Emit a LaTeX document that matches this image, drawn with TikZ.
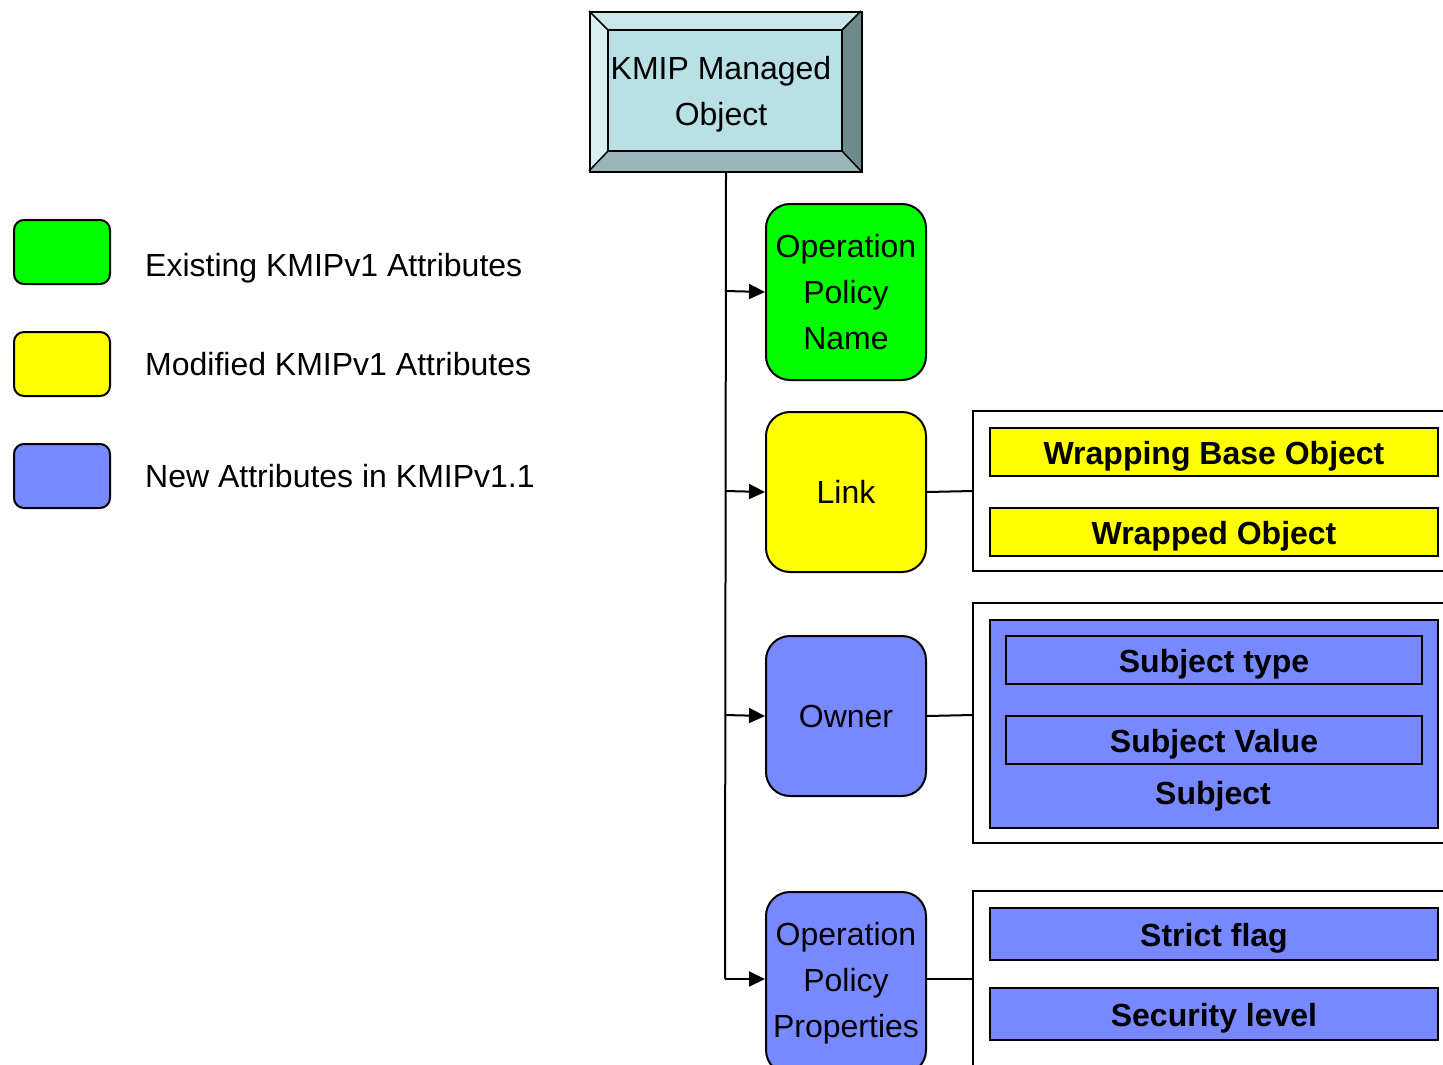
\documentclass[tikz,border=0pt]{standalone}
\usepackage{fontspec}
\setmainfont{Liberation Sans}
\usetikzlibrary{arrows.meta}
\definecolor{kgreen}{HTML}{00FF00}
\definecolor{kyellow}{HTML}{FFFF00}
\definecolor{kblue}{HTML}{7888FF}
\definecolor{bvinner}{HTML}{B9E0E4}
\definecolor{bvtop}{HTML}{C9E7EB}
\definecolor{bvleft}{HTML}{D9EFF1}
\definecolor{bvright}{HTML}{6F8A8C}
\definecolor{bvbottom}{HTML}{99B5B9}
\tikzset{
  txt/.style={font=\fontsize{32}{46}\selectfont, align=center, inner sep=0pt},
  btxt/.style={font=\fontsize{32}{46}\selectfont\bfseries, align=center, inner sep=0pt},
  attr/.style={txt, draw, line width=2pt, rounded corners=24pt, minimum width=160pt, minimum height=176pt, anchor=north west},
  legbox/.style={draw, line width=2pt, rounded corners=10pt, minimum width=96pt, minimum height=64pt, anchor=north west, inner sep=0pt},
  sub/.style={inner sep=0pt, draw, line width=2pt, anchor=north west},
  lab/.style={label={[btxt, yshift=-4.5pt]center:#1}},
  conn/.style={line width=2pt},
  arr/.style={line width=2pt, -{Triangle[length=16pt,width=15pt]}},
  frame/.style={line width=2pt}
}
\begin{document}
\begin{tikzpicture}[x=1pt,y=-1pt]
\useasboundingbox (0,0) rectangle (1443,1065);
% bevel box
\fill[bvinner] (608,30) rectangle (842,151);
\fill[bvtop] (589,11) -- (861,11) -- (842,30) -- (608,30) -- cycle;
\fill[bvleft] (589,11) -- (608,30) -- (608,151) -- (589,171) -- cycle;
\fill[bvright] (861,11) -- (861,171) -- (842,151) -- (842,30) -- cycle;
\fill[bvbottom] (589,171) -- (608,151) -- (842,151) -- (861,171) -- cycle;
\draw[line width=1.5pt] (589,11) -- (608,30) (861,11) -- (842,30) (589,171) -- (608,151) (861,171) -- (842,151);
\draw[line width=2pt] (608,30) rectangle (842,151);
\node[draw, line width=2pt, minimum width=272pt, minimum height=160pt, anchor=north west] (kmip) at (589,11) {};
\node[txt] (kmipt) at (721,94) {KMIP Managed\\Object};

% legend
\node[legbox, fill=kgreen] (lg) at (13,219) {};
\node[legbox, fill=kyellow] (ly) at (13,331) {};
\node[legbox, fill=kblue] (lb) at (13,443) {};
\node[txt, anchor=west] (lgt) at (145,268) {Existing KMIPv1 Attributes};
\node[txt, anchor=west] (lyt) at (145,364) {Modified KMIPv1 Attributes};
\node[txt, anchor=west] (lbt) at (145,476) {New Attributes in KMIPv1.1};

% attribute boxes
\node[attr, fill=kgreen] (opn) at (765,203) {Operation\\Policy\\Name};
\node[attr, minimum height=160pt, fill=kyellow] (link) at (765,411) {Link};
\node[attr, minimum height=160pt, fill=kblue] (owner) at (765,635) {Owner};
\node[attr, minimum height=182pt, fill=kblue] (opp) at (765,891) {Operation\\Policy\\Properties};

% trunk
\coordinate (t1) at (725,291);
\coordinate (t2) at (725,491);
\coordinate (t3) at (725,715);
\coordinate (t4) at (725,979);
\draw[conn] (kmip.south) -- (t4);
\draw[arr] (t1) -- (opn.west);
\draw[arr] (t2) -- (link.west);
\draw[arr] (t3) -- (owner.west);
\draw[arr] (t4) -- (opp.west |- t4);

% containers
\coordinate (c1) at (973,491);
\coordinate (c2) at (973,715);
\coordinate (c3) at (973,979);
\draw[frame] (1445,411) -- (973,411) -- (973,571) -- (1445,571);
\draw[frame] (1445,603) -- (973,603) -- (973,843) -- (1445,843);
\draw[frame] (1445,891) -- (973,891) -- (973,1070);
\draw[conn] (link.east) -- (c1);
\draw[conn] (owner.east) -- (c2);
\draw[conn] (opp.east |- c3) -- (c3);

% sub-attributes
\node[sub, fill=kyellow, minimum width=448pt, minimum height=48pt, lab={Wrapping Base Object}] (wbo) at (989,427) {};
\node[sub, fill=kyellow, minimum width=448pt, minimum height=48pt, lab={Wrapped Object}] (wo) at (989,507) {};
\node[sub, fill=kblue, minimum width=448pt, minimum height=208pt] (subj) at (989,619) {};
\node[btxt] (subjt) at (1213,796) {Subject};
\node[sub, minimum width=416pt, minimum height=48pt, lab={Subject type}] (st) at (1005,635) {};
\node[sub, minimum width=416pt, minimum height=48pt, lab={Subject Value}] (sv) at (1005,715) {};
\node[sub, fill=kblue, minimum width=448pt, minimum height=52pt, lab={Strict flag}] (sf) at (989,907) {};
\node[sub, fill=kblue, minimum width=448pt, minimum height=52pt, lab={Security level}] (sl) at (989,987) {};
\end{tikzpicture}
\end{document}
